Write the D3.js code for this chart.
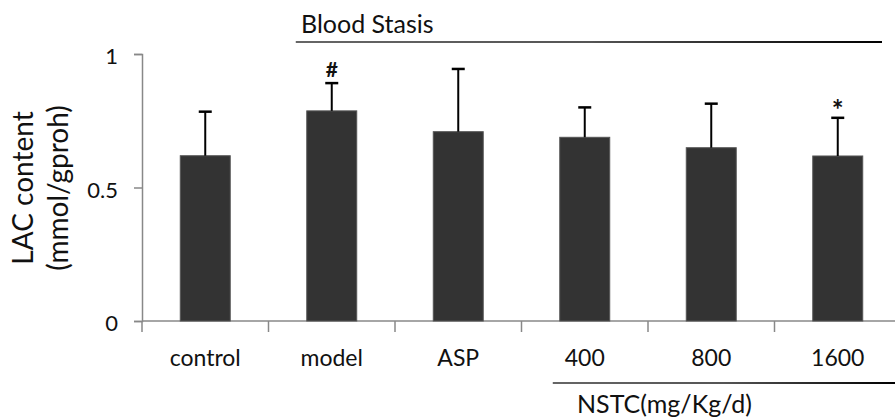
<!DOCTYPE html>
<html>
<head>
<meta charset="utf-8">
<script src="https://cdn.jsdelivr.net/npm/d3@7"></script>
<style>
  html, body { margin: 0; padding: 0; background: #fff; }
  svg { display: block; }
  text { font-family: Lato, "Open Sans", sans-serif; fill: #111; }
</style>
</head>
<body>
<svg id="chart" width="895" height="419"></svg>
<script>
const categories = ["control", "model", "ASP", "400", "800", "1600"];
const means = [0.619, 0.787, 0.709, 0.688, 0.649, 0.618];
const sds = [0.165, 0.104, 0.235, 0.112, 0.165, 0.143];
const marks = ["", "#", "", "", "", "*"];
const yTicks = [0, 0.5, 1];
const yTickLabels = ["0", "0.5", "1"];
const yTitle = ["LAC content", "(mmol/gproh)"];
const groupTop = "Blood Stasis";
const groupBottom = "NSTC(mg/Kg/d)";

const svg = d3.select("#chart");
const W = 895;

const x = d3.scaleBand().domain(categories).range([142, 901])
  .paddingInner(0.605).paddingOuter(0.3025);
const y = d3.scaleLinear().domain([0, 1]).range([321, 54]);
const step = x.step();

const defs = svg.append("defs");
function makeGrad(id, x1, x2) {
  const g = defs.append("linearGradient").attr("id", id)
    .attr("gradientUnits", "userSpaceOnUse")
    .attr("x1", x1).attr("x2", x2).attr("y1", 0).attr("y2", 0);
  g.append("stop").attr("offset", "0%").attr("stop-color", "#666");
  g.append("stop").attr("offset", "50%").attr("stop-color", "#555");
  g.append("stop").attr("offset", "100%").attr("stop-color", "#000");
}

// Y axis
const yAxis = d3.axisLeft(y).tickValues(yTicks)
  .tickFormat((d, i) => yTickLabels[i]).tickSize(8).tickPadding(16);
const yg = svg.append("g").attr("transform", "translate(142,0)").call(yAxis);
yg.select(".domain").attr("stroke", "#888").attr("stroke-width", 1.5);
yg.selectAll(".tick line").attr("stroke", "#888").attr("stroke-width", 1.5);
yg.selectAll(".tick text").attr("font-size", 22).attr("font-family", "Lato, sans-serif")
  .attr("fill", "#111").attr("dy", "0.45em");

// X axis line and separators
svg.append("line").attr("x1", 142).attr("x2", W).attr("y1", y(0)).attr("y2", y(0))
  .attr("stroke", "#888").attr("stroke-width", 1.5);
const seps = categories.map(c => x(c) - step * x.paddingInner() / 2);
svg.selectAll(".sep").data(seps).join("line")
  .attr("x1", d => d).attr("x2", d => d).attr("y1", y(0)).attr("y2", y(0) + 11)
  .attr("stroke", "#888").attr("stroke-width", 1.5);

// Category labels
svg.selectAll(".cat").data(categories).join("text")
  .attr("x", d => x(d) + x.bandwidth() / 2).attr("y", 366)
  .attr("text-anchor", "middle").attr("font-size", 23).text(d => d);

// Bars
svg.selectAll(".bar").data(categories).join("rect")
  .attr("x", d => x(d)).attr("width", x.bandwidth())
  .attr("y", (d, i) => y(means[i])).attr("height", (d, i) => y(0) - y(means[i]))
  .attr("fill", "#333").attr("stroke", "#555").attr("stroke-width", 1);

// Error bars
const cap = 13;
svg.selectAll(".err").data(categories).join("line")
  .attr("x1", d => x(d) + x.bandwidth() / 2).attr("x2", d => x(d) + x.bandwidth() / 2)
  .attr("y1", (d, i) => y(means[i])).attr("y2", (d, i) => y(means[i] + sds[i]))
  .attr("stroke", "#000").attr("stroke-width", 2);
svg.selectAll(".cap").data(categories).join("line")
  .attr("x1", d => x(d) + x.bandwidth() / 2 - cap / 2).attr("x2", d => x(d) + x.bandwidth() / 2 + cap / 2)
  .attr("y1", (d, i) => y(means[i] + sds[i])).attr("y2", (d, i) => y(means[i] + sds[i]))
  .attr("stroke", "#000").attr("stroke-width", 2.5);

// Significance marks
svg.selectAll(".mark").data(categories).join("text")
  .attr("x", d => x(d) + x.bandwidth() / 2 - (marks[d === "1600" ? 5 : 1] === "*" ? 0 : 0))
  .attr("y", (d, i) => y(means[i] + sds[i]) - (marks[i] === "*" ? -2 : 6))
  .attr("text-anchor", "middle").attr("font-size", (d, i) => marks[i] === "*" ? 28 : 21)
  .attr("font-weight", "bold")
  .attr("fill", "#333").text((d, i) => marks[i]);

// Y title
const yt = svg.append("text").attr("transform", "translate(33,188) rotate(-90)")
  .attr("text-anchor", "middle").attr("font-size", 28);
yt.append("tspan").attr("x", 0).attr("y", 0).text(yTitle[0]);
yt.append("tspan").attr("x", 0).attr("y", 35).text(yTitle[1]);

// Group annotations
const tx1 = x("model") - 11, tx2 = 882;
makeGrad("gradTop", tx1, tx2);
svg.append("line").attr("x1", tx1).attr("x2", tx2).attr("y1", 42).attr("y2", 42)
  .attr("stroke", "url(#gradTop)").attr("stroke-width", 2);
svg.append("text").attr("x", 301).attr("y", 33).attr("font-size", 25).text(groupTop);

const bx1 = x("400") - 7, bx2 = W;
makeGrad("gradBot", bx1, bx2);
svg.append("line").attr("x1", bx1).attr("x2", bx2).attr("y1", 383).attr("y2", 383)
  .attr("stroke", "url(#gradBot)").attr("stroke-width", 2);
svg.append("text").attr("x", 577).attr("y", 413).attr("font-size", 25).text(groupBottom);
</script>
</body>
</html>
